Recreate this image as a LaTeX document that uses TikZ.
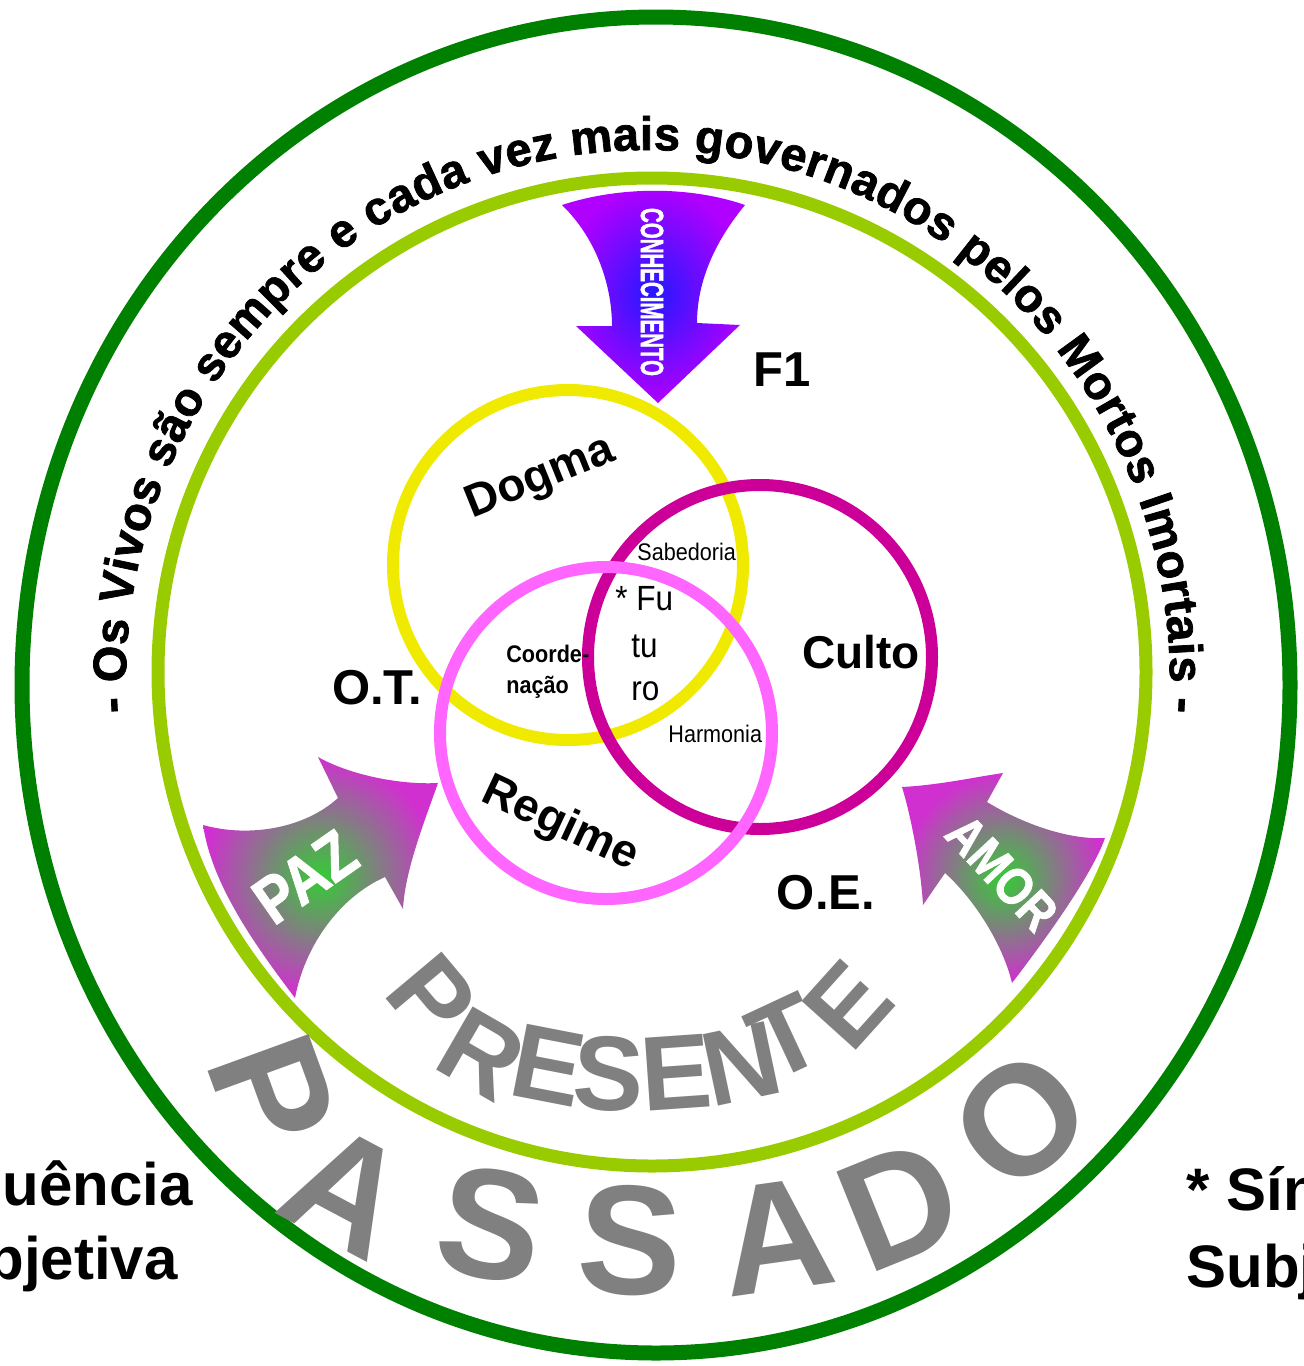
\documentclass[tikz,border=0pt]{standalone}
\usepackage{fontspec}
\usepackage{graphicx}
\setmainfont{Liberation Sans}
\newfontfamily\heavyfont{Liberation Sans}[BoldFeatures={FakeBold=1.6}]
\usetikzlibrary{decorations.text}
\definecolor{ringdark}{HTML}{008000}
\definecolor{ringlight}{HTML}{99CC00}
\definecolor{vyellow}{HTML}{F0EA00}
\definecolor{vmagenta}{HTML}{CC0099}
\definecolor{vpink}{HTML}{FF66FF}
\definecolor{txtgray}{HTML}{808080}
\definecolor{conhin}{HTML}{2418FF}
\definecolor{conhout}{HTML}{B000FF}
\definecolor{arrgreen}{HTML}{33CC33}
\definecolor{arrmag}{HTML}{D030D0}
\begin{document}
\begin{tikzpicture}[x=0.5pt,y=0.5pt,
  biglbl/.style={font=\bfseries\fontsize{23}{27}\selectfont, inner sep=0pt},
  midlbl/.style={font=\bfseries\fontsize{24.5}{28}\selectfont, inner sep=0pt},
  smalltxt/.style={font=\fontsize{12}{14}\selectfont, inner sep=0pt, anchor=base west},
  smallbold/.style={font=\bfseries\fontsize{12}{14}\selectfont, inner sep=0pt, anchor=base west},
  futtxt/.style={font=\fontsize{17.5}{20}\selectfont, inner sep=0pt, anchor=base west},
  presl/.style={font=\bfseries\fontsize{53}{53}\selectfont, text=txtgray, inner sep=0pt},
  passl/.style={font=\bfseries\fontsize{78}{78}\selectfont, text=txtgray, inner sep=0pt},
  sidetxt/.style={font=\bfseries\fontsize{30}{34}\selectfont, inner sep=0pt},
  arrtxt/.style={text=white, inner sep=0pt},
  venn/.style={line width=6pt}
]
\useasboundingbox (0,0) rectangle (1303,-1366);
\clip (0,0) rectangle (1303,-1366);

% Venn circles
\draw[venn, vyellow] (568,-565) circle [radius=175];
\draw[venn, vmagenta] (760,-657) circle [radius=172];
\draw[venn, vpink] (606,-733) circle [radius=166];

% CONHECIMENTO arrow
\shade[inner color=conhin, outer color=conhout]
  (562,-205) .. controls (620,-186) and (690,-186) .. (745,-205)
  .. controls (712,-245) and (697,-285) .. (697,-323)
  -- (740,-325) -- (658,-403) -- (576,-326) -- (612,-326)
  .. controls (612,-288) and (598,-240) .. (562,-205) -- cycle;

% PAZ arrow
\shade[inner color=arrgreen, outer color=arrmag]
  (203,-825) .. controls (250,-838) and (305,-828) .. (338,-798)
  -- (318,-757)
  .. controls (350,-775) and (400,-785) .. (438,-783)
  .. controls (425,-820) and (405,-870) .. (403,-909)
  -- (385,-877)
  .. controls (340,-897) and (305,-945) .. (295,-998)
  .. controls (255,-945) and (212,-885) .. (203,-825) -- cycle;

% AMOR arrow
\shade[inner color=arrgreen, outer color=arrmag]
  (902,-787) .. controls (940,-785) and (975,-777) .. (1003,-773)
  -- (987,-802)
  .. controls (1025,-825) and (1070,-840) .. (1105,-838)
  .. controls (1092,-875) and (1045,-940) .. (1012,-983)
  .. controls (1003,-945) and (975,-900) .. (945,-873)
  -- (923,-905)
  .. controls (921,-870) and (912,-820) .. (902,-787) -- cycle;

% Rings
\draw[ringdark, line width=7.5pt] (656,-685) ellipse [x radius=634, y radius=668];
\draw[ringlight, line width=6.5pt] (652,-672) circle [radius=494];

% Top circular text
\path[decorate, decoration={text along path,
  text={|\heavyfont\bfseries\fontsize{23.5}{26}\selectfont|- Os Vivos são sempre e cada vez mais governados pelos Mortos Imortais -},
  text align={fit to path}}]
  (126.97,-712.36) arc [start angle=183.5, end angle=-3.5, x radius=522, y radius=530];

% Arrow texts
\node[arrtxt, font=\heavyfont\bfseries\fontsize{16}{16}\selectfont, rotate=-90] (conh) at (652,-292) {\scalebox{0.64}[1]{CONHECIMENTO}};
\node[arrtxt, font=\heavyfont\bfseries\fontsize{33}{33}\selectfont, rotate=35] (paz) at (305,-877) {\scalebox{0.85}[1]{PAZ}};
\node[arrtxt, font=\heavyfont\bfseries\fontsize{26}{26}\selectfont, rotate=-47] (amor) at (1002,-873) {\scalebox{0.85}[1]{AMOR}};

% Labels
\node[biglbl, rotate=22] (dogma) at (541,-479) {Dogma};
\node[biglbl] (culto) at (861,-652) {Culto};
\node[biglbl, rotate=-25] (regime) at (560,-825) {Regime};
\node[midlbl] (ot) at (377,-688) {O.T.};
\node[midlbl] (oe) at (826,-893) {O.E.};
\node[midlbl] (f1) at (782,-370) {F1};

\node[smalltxt] (sab) at (637,-560) {\scalebox{0.9}[1]{Sabedoria}};
\node[smalltxt] (harm) at (668,-742) {\scalebox{0.9}[1]{Harmonia}};
\node[smallbold] (coord1) at (506,-662) {\scalebox{0.9}[1]{Coorde-}};
\node[smallbold] (coord2) at (506,-693) {\scalebox{0.9}[1]{nação}};
\node[futtxt] (fu) at (615,-610) {\scalebox{0.9}[1]{* Fu}};
\node[futtxt] (tu) at (631,-657) {\scalebox{0.9}[1]{tu}};
\node[futtxt] (ro) at (631,-700) {\scalebox{0.9}[1]{ro}};

% PRESENTE
\foreach \ch/\px/\py/\rr [count=\i] in {P/432/997/-50, R/482/1054/-30, E/548/1065/-11, S/609/1074/-3, E/676/1073/4, N/741/1064/12, T/785/1037/25, E/848/1005/48}
  \node[presl, rotate=\rr] (pres\i) at (\px,-\py) {\ch};

% PASSADO
\foreach \ch/\px/\py/\rr [count=\i] in {P/273/1092/-70, A/346/1191/-28, S/491/1225/-10, S/630/1241/-3, A/777/1237/8, D/900/1205/22, O/1021/1120/42}
  \node[passl, rotate=\rr] (pass\i) at (\px,-\py) {\ch};

% Side texts
\node[sidetxt, anchor=base east] (sl1) at (193,-1205) {Sequência};
\node[sidetxt, anchor=base east] (sl2) at (178,-1279) {Objetiva};
\node[sidetxt, anchor=base west] (sr1) at (1186,-1210) {* Síntese};
\node[sidetxt, anchor=base west] (sr2) at (1186,-1287) {Subjetiva};
\end{tikzpicture}
\end{document}
